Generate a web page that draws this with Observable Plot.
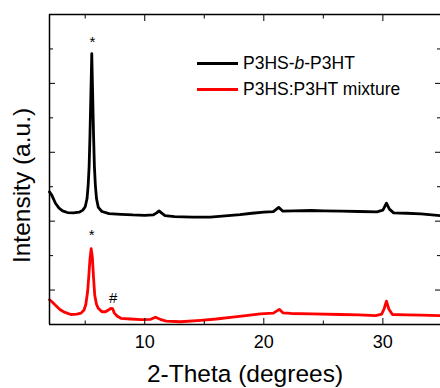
<!DOCTYPE html>
<html>
<head>
<meta charset="utf-8">
<script src="https://cdn.jsdelivr.net/npm/d3@7"></script>
<script src="https://cdn.jsdelivr.net/npm/@observablehq/plot@0.6"></script>
<style>
  html, body { margin: 0; padding: 0; background: #fff; }
  #wrap { position: relative; width: 440px; height: 388px; font-family: "Liberation Sans", Arial, sans-serif; }
  .leg { position: absolute; left: 197px; font-size: 17.5px; color: #000; line-height: 20px; }
  .leg .sw { position: absolute; left: 0; top: 9px; width: 41px; height: 3px; }
  .leg .tx { position: absolute; left: 46px; top: 0; white-space: nowrap; }
</style>
</head>
<body>
<div id="wrap"></div>
<script>
// 2-Theta (degrees) vs intensity (a.u., offset curves)
const blockTheta = [2.0, 2.2, 2.5, 2.8, 3.1, 3.5, 4.0, 4.5, 4.8, 5.0, 5.15, 5.25, 5.33, 5.4, 5.47, 5.55, 5.63, 5.7, 5.77, 5.85, 5.95, 6.1, 6.4, 7.0, 8.0, 9.0, 10.0, 10.7, 11.0, 11.2, 11.4, 11.7, 12.5, 14.0, 15.5, 17.0, 18.0, 19.0, 20.0, 20.8, 21.25, 21.6, 22.5, 24.0, 25.0, 26.5, 28.0, 29.5, 30.0, 30.3, 30.55, 30.9, 32.0, 33.2, 34.84];
const blockInt   = [3.85, 3.75, 3.52, 3.38, 3.30, 3.25, 3.24, 3.26, 3.32, 3.42, 3.65, 4.05, 4.6, 5.5, 6.6, 7.86, 6.6, 5.5, 4.6, 4.05, 3.65, 3.4, 3.28, 3.22, 3.20, 3.18, 3.17, 3.18, 3.24, 3.30, 3.24, 3.16, 3.13, 3.12, 3.12, 3.16, 3.19, 3.23, 3.26, 3.28, 3.40, 3.29, 3.30, 3.31, 3.30, 3.29, 3.28, 3.27, 3.32, 3.52, 3.35, 3.24, 3.23, 3.21, 3.16];

const mixTheta = [2.0, 2.2, 2.5, 2.9, 3.3, 3.8, 4.3, 4.65, 4.9, 5.05, 5.2, 5.3, 5.4, 5.5, 5.6, 5.7, 5.8, 5.95, 6.1, 6.4, 6.7, 6.95, 7.15, 7.3, 7.45, 7.7, 8.0, 8.8, 9.7, 10.5, 10.9, 11.3, 11.8, 13.0, 14.7, 16.0, 17.2, 18.5, 19.7, 20.8, 21.3, 21.6, 22.3, 24.0, 26.4, 28.0, 29.4, 29.9, 30.1, 30.3, 30.5, 30.8, 32.0, 33.2, 34.84];
const mixInt   = [0.72, 0.66, 0.56, 0.43, 0.35, 0.29, 0.30, 0.33, 0.42, 0.58, 0.95, 1.4, 1.9, 2.2, 1.95, 1.35, 0.85, 0.58, 0.47, 0.37, 0.37, 0.42, 0.47, 0.46, 0.33, 0.24, 0.18, 0.16, 0.14, 0.15, 0.21, 0.15, 0.10, 0.08, 0.12, 0.16, 0.21, 0.26, 0.31, 0.33, 0.44, 0.34, 0.32, 0.31, 0.29, 0.28, 0.26, 0.30, 0.45, 0.68, 0.45, 0.29, 0.28, 0.27, 0.26];

const seriesNames = ["P3HS-b-P3HT", "P3HS:P3HT mixture"];
const seriesColors = ["#000000", "#ff0000"];

const annoTheta = [5.6, 5.55, 7.35];
const annoInt   = [8.2, 2.6, 0.77];
const annoText  = ["*", "*", "#"];

const xMajorTicks = [10, 20, 30];
const xMinorTicks = [5, 15, 25];
const xTopTicks   = [5, 10, 15, 20, 25, 30];
const yMajorTicks = [1, 3, 5, 7];
const yMinorTicks = [2, 4, 6, 8];
const xDomain = [2, 34.84];
const yDomain = [0, 9];

const xLabel = "2-Theta (degrees)";
const yLabel = "Intensity (a.u.)";

const block = blockTheta.map((t, i) => ({t, v: blockInt[i]}));
const mix = mixTheta.map((t, i) => ({t, v: mixInt[i]}));
const annos = annoTheta.map((t, i) => ({t, v: annoInt[i], s: annoText[i]}));
const none = () => "";

const chart = Plot.plot({
  width: 440, height: 388,
  marginLeft: 49, marginTop: 14, marginBottom: 64, marginRight: 0,
  style: {fontFamily: '"Liberation Sans", Arial, sans-serif', background: "#fff", color: "#000"},
  x: {domain: xDomain},
  y: {domain: yDomain},
  marks: [
    Plot.line(block, {x: "t", y: "v", stroke: seriesColors[0], strokeWidth: 2.8, curve: "linear"}),
    Plot.line(mix, {x: "t", y: "v", stroke: seriesColors[1], strokeWidth: 2.8, curve: "linear"}),
    Plot.text(annos, {x: "t", y: "v", text: "s", fontSize: 15, fill: "#000"}),
    Plot.ruleX([xDomain[0]], {stroke: "#000", strokeWidth: 1.5}),
    Plot.ruleY(yDomain, {stroke: "#000", strokeWidth: 1.5}),
    Plot.axisX(xMajorTicks, {anchor: "bottom", tickSize: -6, tickPadding: 17, fontSize: 18, label: null, tickFormat: d => String(d)}),
    Plot.axisX(xMinorTicks, {anchor: "bottom", tickSize: -3.5, tickFormat: none, label: null}),
    Plot.axisX(xTopTicks.filter(d => xMajorTicks.includes(d)), {anchor: "top", tickSize: -6, tickFormat: none, label: null}),
    Plot.axisX(xTopTicks.filter(d => !xMajorTicks.includes(d)), {anchor: "top", tickSize: -3.5, tickFormat: none, label: null}),
    Plot.axisY(yMajorTicks, {anchor: "left", tickSize: -6, tickFormat: none, label: null}),
    Plot.axisY(yMinorTicks, {anchor: "left", tickSize: -4, tickFormat: none, label: null}),
    Plot.axisY(yMajorTicks, {anchor: "right", tickSize: -6, tickFormat: none, label: null}),
    Plot.axisY(yMinorTicks, {anchor: "right", tickSize: -4, tickFormat: none, label: null}),
    Plot.text([xLabel], {frameAnchor: "bottom", dy: 57, fontSize: 24.5, fill: "#000"}),
    Plot.text([yLabel], {frameAnchor: "left", textAnchor: "middle", dx: -27, dy: 16, rotate: -90, fontSize: 24.5, fill: "#000"})
  ]
});

const wrap = document.getElementById("wrap");
wrap.appendChild(chart);

const legTops = [53, 79];
seriesNames.forEach((name, i) => {
  const d = document.createElement("div");
  d.className = "leg";
  d.style.top = legTops[i] + "px";
  const sw = document.createElement("div");
  sw.className = "sw";
  sw.style.background = seriesColors[i];
  const tx = document.createElement("div");
  tx.className = "tx";
  tx.innerHTML = name.replace("-b-", "-<i>b</i>-");
  d.appendChild(sw); d.appendChild(tx);
  wrap.appendChild(d);
});
</script>
</body>
</html>
